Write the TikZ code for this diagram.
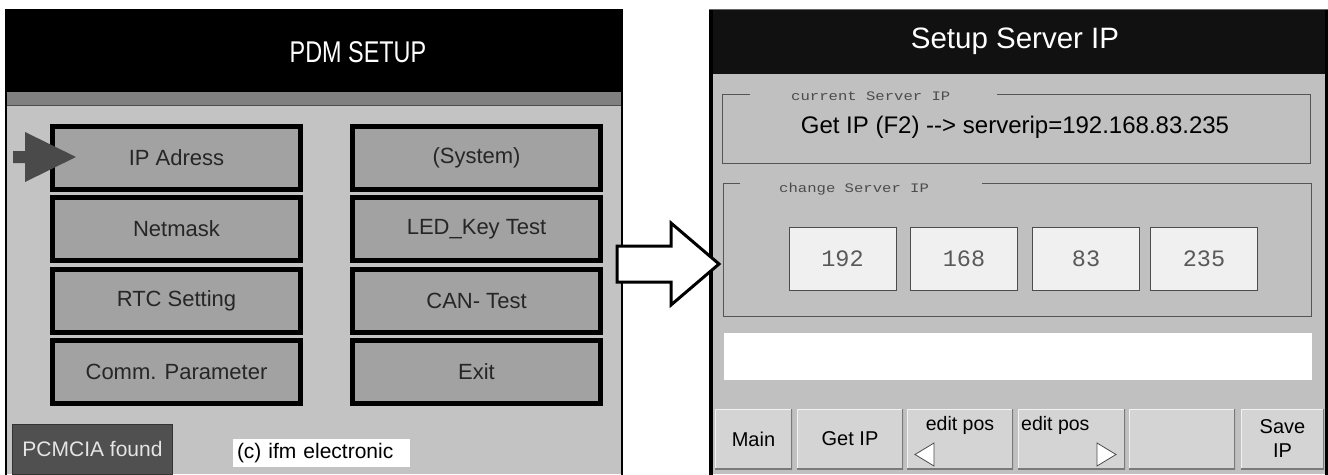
\documentclass[tikz,border=0pt]{standalone}
\usepackage{fontspec}
\setmainfont{Liberation Sans}
\newfontfamily\titlefont[FakeStretch=0.78]{Liberation Sans}
\newfontfamily\lblmono[FakeStretch=1.2]{Liberation Mono}
\newfontfamily\ipmono{Liberation Mono}
\definecolor{bodygray}{HTML}{C3C3C3}
\definecolor{stripegray}{HTML}{808080}
\definecolor{lbtnfill}{HTML}{A2A2A2}
\definecolor{arrowgray}{HTML}{4A4A4A}
\definecolor{pcmfill}{HTML}{505050}
\definecolor{rbody}{HTML}{C0C0C0}
\definecolor{rtitle}{HTML}{111111}
\definecolor{framegray}{HTML}{555555}
\definecolor{ipfill}{HTML}{F0F0F0}
\definecolor{sbtnfill}{HTML}{D4D4D4}
\definecolor{sbtndark}{HTML}{7A7A7A}
\begin{document}
\begin{tikzpicture}[x=1pt,y=-1pt,
  lbtn/.style={draw=black, line width=5pt, fill=lbtnfill, minimum width=248pt,
    minimum height=63pt, inner sep=0pt, font=\fontsize{22}{26}\selectfont, text=black!85},
  ipbox/.style={draw=black!70, line width=0.8pt, fill=ipfill, minimum width=107pt,
    minimum height=63pt, inner sep=0pt, font=\ipmono\fontsize{23.5}{28}\selectfont, text=black!65},
  sbtn/.style={fill=sbtnfill, minimum height=60pt, inner sep=0pt,
    font=\fontsize{20}{24}\selectfont, text=black,
    path picture={
      \draw[white!95!black, line width=2pt] (path picture bounding box.south west) -- (path picture bounding box.north west) -- (path picture bounding box.north east);
      \draw[sbtndark, line width=2pt] (path picture bounding box.north east) -- (path picture bounding box.south east) -- (path picture bounding box.south west);}},
  framelbl/.style={font=\lblmono\fontsize{13}{15}\selectfont, text=black!70, anchor=base west, inner sep=0pt},
  frameline/.style={draw=framegray, line width=1pt},
  tri/.style={fill=white, draw=black!70, line width=0.8pt, line join=miter}
]
\useasboundingbox (0,0) rectangle (1328,474);
\fill[white] (0,0) rectangle (1328,474);

% ---------- left panel ----------
\fill[bodygray] (5,10) rectangle (623,474);
\fill[black] (5,10) rectangle (623,92);
\fill[stripegray] (7,92) rectangle (621,105);
\draw[black!70, line width=1pt] (7,105.5) -- (621,105.5);
\draw[black, line width=2.5pt] (6.2,476) -- (6.2,9.8) -- (621.8,9.8) -- (621.8,476);
\node[text=white, font=\titlefont\fontsize{30}{36}\selectfont] (ltitle) at (358,52) {PDM SETUP};

\node[lbtn] (ipadr) at (176.5,157.5) {IP Adress};
\node[lbtn] (netm)  at (176.5,229)   {Netmask};
\node[lbtn] (rtc)   at (176.5,300.5) {RTC Setting};
\node[lbtn] (comm)  at (176.5,371.5) {Comm. Parameter};
\node[lbtn] (sys)   at (476.5,157.5) {(System)};
\node[lbtn] (led)   at (476.5,229)   {LED\_Key Test};
\node[lbtn] (can)   at (476.5,300.5) {CAN- Test};
\node[lbtn] (exit)  at (476.5,371.5) {Exit};

\fill[arrowgray] (13,151) -- (25,151) -- (25,132) -- (76,157) -- (25,182) -- (25,163) -- (13,163) -- cycle;

\node[draw=black!80, line width=1pt, fill=pcmfill, minimum width=160pt, minimum height=50pt,
  inner sep=0pt, text=white!90!black, font=\fontsize{21}{25}\selectfont] (pcm) at (92.5,449) {PCMCIA found};
\node[fill=white, minimum height=28pt, text width=169pt, inner xsep=4pt, inner ysep=0pt,
  align=left, font=\fontsize{21}{25}\selectfont] (ifm) at (321.5,453) {(c) ifm electronic};

% ---------- right panel ----------
\fill[rbody] (709,10) rectangle (1327,474);
\fill[rtitle] (711,10) rectangle (1325,74);
\draw[black, line width=4pt] (711,476) -- (711,10);
\draw[black, line width=3pt] (1326.5,476) -- (1326.5,10);
\draw[black!60, line width=1pt] (709,9.5) -- (1328,9.5);
\node[text=white, font=\fontsize{29.5}{34}\selectfont] (rtitlet) at (1015,41) {Setup Server IP};

% frame 1
\draw[frameline] (750,94) -- (722,94) -- (722,163) -- (1310,163) -- (1310,94) -- (997,94);
\node[framelbl] (curlbl) at (791,100) {current Server IP};
\node[anchor=base, inner sep=0pt, font=\fontsize{24}{28}\selectfont] (curip) at (1015,133)
  {Get IP (F2) -{}-{}> serverip=192.168.83.235};

% frame 2
\draw[frameline] (740,183) -- (723,183) -- (723,316) -- (1311,316) -- (1311,183) -- (982,183);
\node[framelbl] (chglbl) at (779,192) {change Server IP};
\node[ipbox] (ip1) at (842.5,259) {192};
\node[ipbox] (ip2) at (964,259)   {168};
\node[ipbox] (ip3) at (1086,259)  {83};
\node[ipbox] (ip4) at (1204,259)  {235};

% message bar
\node[fill=white, minimum width=588pt, minimum height=47pt, inner sep=0pt] (msg) at (1018,356.5) {};

% softkey buttons
\node[sbtn, minimum width=77pt]  (bmain) at (753.5,439) {Main};
\node[sbtn, minimum width=106pt] (bget)  at (850,439)   {Get IP};
\node[sbtn, minimum width=106pt] (bleft) at (960,439)   {};
\node[sbtn, minimum width=107pt] (bright) at (1071.5,439) {};
\node[sbtn, minimum width=106pt] (bblank) at (1182,439) {};
\node[sbtn, minimum width=83pt, align=center] (bsave) at (1282.5,439) {Save\\IP};

\node[anchor=base, inner sep=0pt, font=\fontsize{19.5}{24}\selectfont] (tleft) at (960,430) {edit pos};
\node[anchor=base west, inner sep=0pt, font=\fontsize{19.5}{24}\selectfont] (tright) at (1021,430) {edit pos};
\draw[tri] (934,443) -- (915,454.5) -- (934,466) -- cycle;
\draw[tri] (1097,443) -- (1116,454.5) -- (1097,466) -- cycle;

% block arrow between screens
\draw[fill=white, draw=black, line width=3pt, line join=miter]
  (617,246) -- (671,246) -- (671,223) -- (719,264) -- (671,305) -- (671,282) -- (617,282) -- cycle;
\end{tikzpicture}
\end{document}
